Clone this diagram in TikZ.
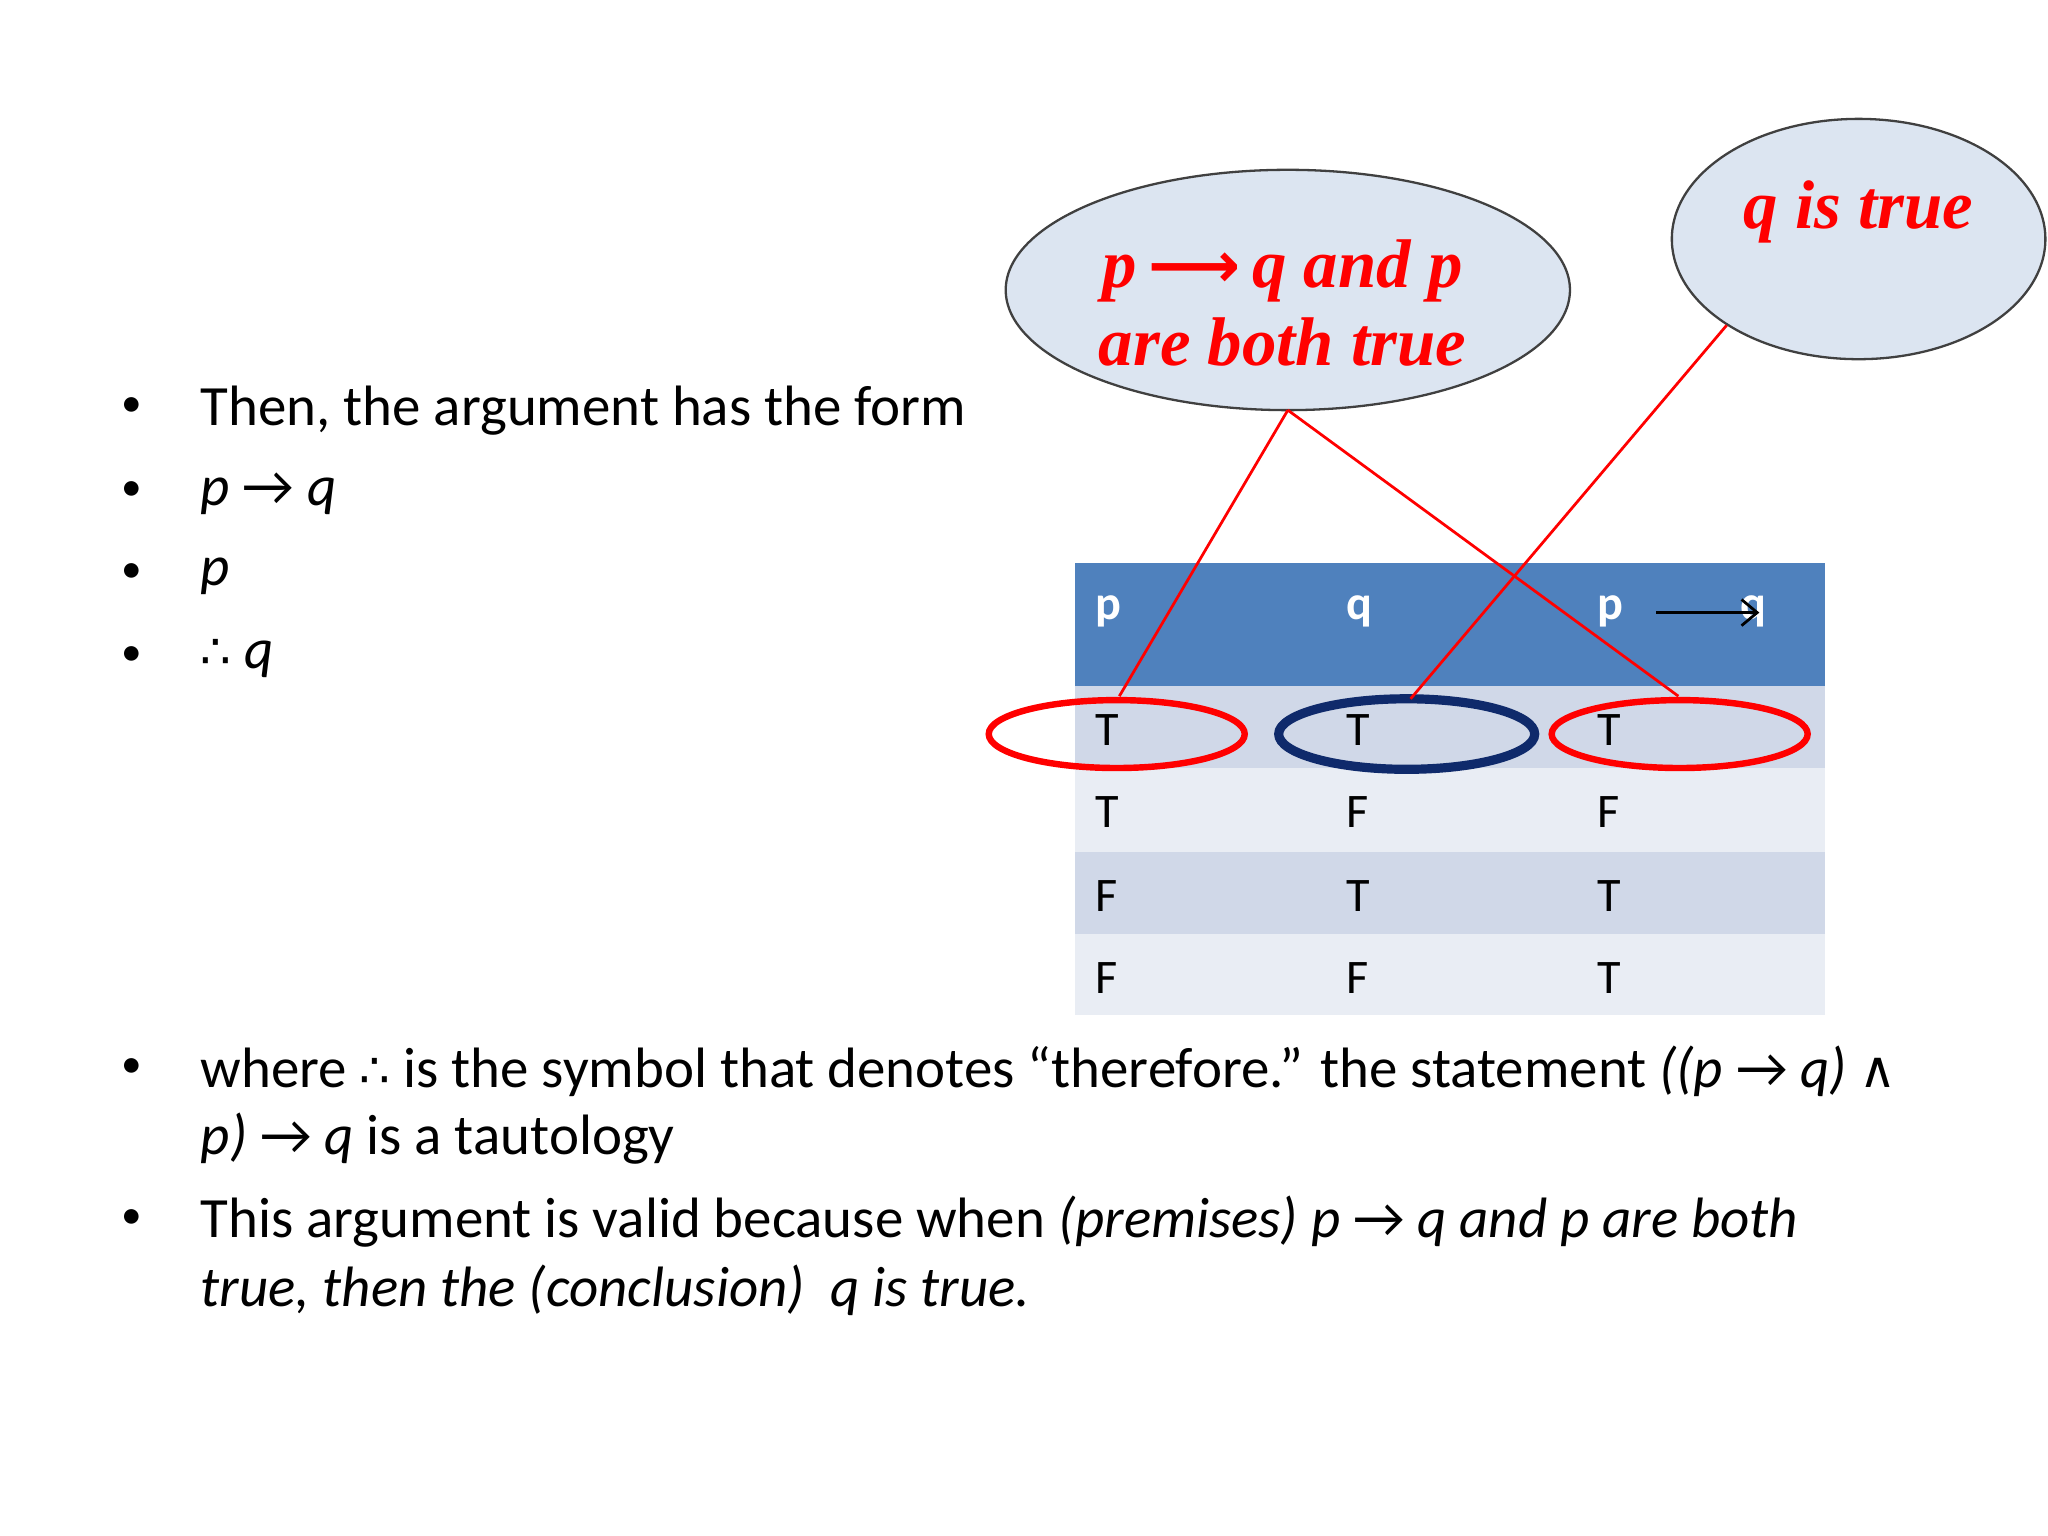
\documentclass[tikz,border=0pt]{standalone}
\usepackage{fontspec}
\setmainfont{Carlito}
\newfontfamily\tms{Liberation Serif}
\newfontfamily\djv{DejaVu Sans}
\usetikzlibrary{arrows.meta}
\definecolor{hdr}{HTML}{4F81BD}
\definecolor{rowa}{HTML}{D0D8E8}
\definecolor{rowb}{HTML}{E9EDF4}
\definecolor{ellf}{HTML}{DCE5F1}
\definecolor{navy}{HTML}{0F2A6B}
\newcommand{\thf}{{\djv\fontsize{10.5}{13}\selectfont ∴}}
\tikzset{
 txt/.style={anchor=west,inner sep=0pt,font=\fontsize{12.4}{14}\selectfont},
 bul/.style={inner sep=0pt,font=\fontsize{9}{13}\selectfont},
 cell/.style={anchor=west,inner sep=0pt,font=\fontsize{10.5}{12}\selectfont},
 big/.style={draw=black!75,fill=ellf,line width=0.5pt},
 ring/.style={draw=red,line width=1.4pt},
 link/.style={draw=red,line width=0.6pt},
 lab/.style={text=red,font=\tms\bfseries\itshape\fontsize{15}{19}\selectfont,align=center}
}
\begin{document}
\begin{tikzpicture}[x=0.1mm,y=-0.1mm]
\useasboundingbox (0,0) rectangle (1568,1176);
% bullets
\foreach \yy in {312,376,439,502,818,933}{\node[bul] at (101,\yy) {•};}
\node[txt] (t1) at (153,314) {Then, the argument has the form};
\node[txt] (t2) at (153,378) {\textit{p} → \textit{q}};
\node[txt] (t3) at (153,441) {\textit{p}};
\node[txt] (t4) at (153,504) {\thf\ \textit{q}};
\node[txt] (t5) at (153,820) {where \thf\ is the symbol that denotes “therefore.” the statement \textit{((p} → \textit{q)} {\djv\fontsize{11}{13}\selectfont ∧}};
\node[txt] (t6) at (153,872) {\textit{p)} → \textit{q} is a tautology};
\node[txt] (t7) at (153,935) {This argument is valid because when \textit{(premises) p} → \textit{q and p are both}};
\node[txt] (t8) at (153,988) {\textit{true, then the (conclusion)\ \ q is true.}};
% table
\fill[hdr] (823,431) rectangle (1397,525);
\fill[rowa] (823,525) rectangle (1397,588);
\fill[rowb] (823,588) rectangle (1397,652);
\fill[rowa] (823,652) rectangle (1397,715);
\fill[rowb] (823,715) rectangle (1397,777);
\node[cell,text=white,font=\bfseries\fontsize{10.5}{12}\selectfont] (h1) at (838,468) {p};
\node[cell,text=white,font=\bfseries\fontsize{10.5}{12}\selectfont] (h2) at (1030,468) {q};
\node[cell,text=white,font=\bfseries\fontsize{10.5}{12}\selectfont] (h3) at (1222,468) {p};
\node[cell,text=white,font=\bfseries\fontsize{10.5}{12}\selectfont] (h4) at (1332,468) {q};
\coordinate (a1) at (1268,469); \coordinate (a2) at (1347,469);
\draw[-{Straight Barb[length=1.2mm,width=2mm]},line width=0.6pt] (a1) -- (a2);
\foreach \yy/\a/\b/\c [count=\i] in {559/T/T/T,622/T/F/F,686/F/T/T,749/F/F/T}{
 \node[cell] (c1\i) at (838,\yy) {\a};
 \node[cell] (c2\i) at (1030,\yy) {\b};
 \node[cell] (c3\i) at (1222,\yy) {\c};
}
% rings
\draw[ring] (855,562) ellipse (98 and 26);
\draw[draw=navy,line width=2pt] (1077,562) ellipse (98 and 27);
\draw[ring] (1286,562) ellipse (98 and 26);
\coordinate (r1) at (857,533); \coordinate (r2) at (1080,535); \coordinate (r3) at (1285,533);
% big ellipses
\draw[big] (986,222) ellipse (216 and 92);
\draw[big] (1423,183) ellipse (143 and 92);
\coordinate (e1) at (986,314); \coordinate (e2) at (1322,249);
\node[lab] (l1) at (982,232) {p\,{\djv\bfseries\fontsize{14}{19}\selectfont ⟶}\,q and p\\[-2pt]are both true};
\node[lab] (l2) at (1423,162) {q is true};
\draw[link] (e1) -- (r1);
\draw[link] (e1) -- (r3);
\draw[link] (e2) -- (r2);
\end{tikzpicture}
\end{document}
